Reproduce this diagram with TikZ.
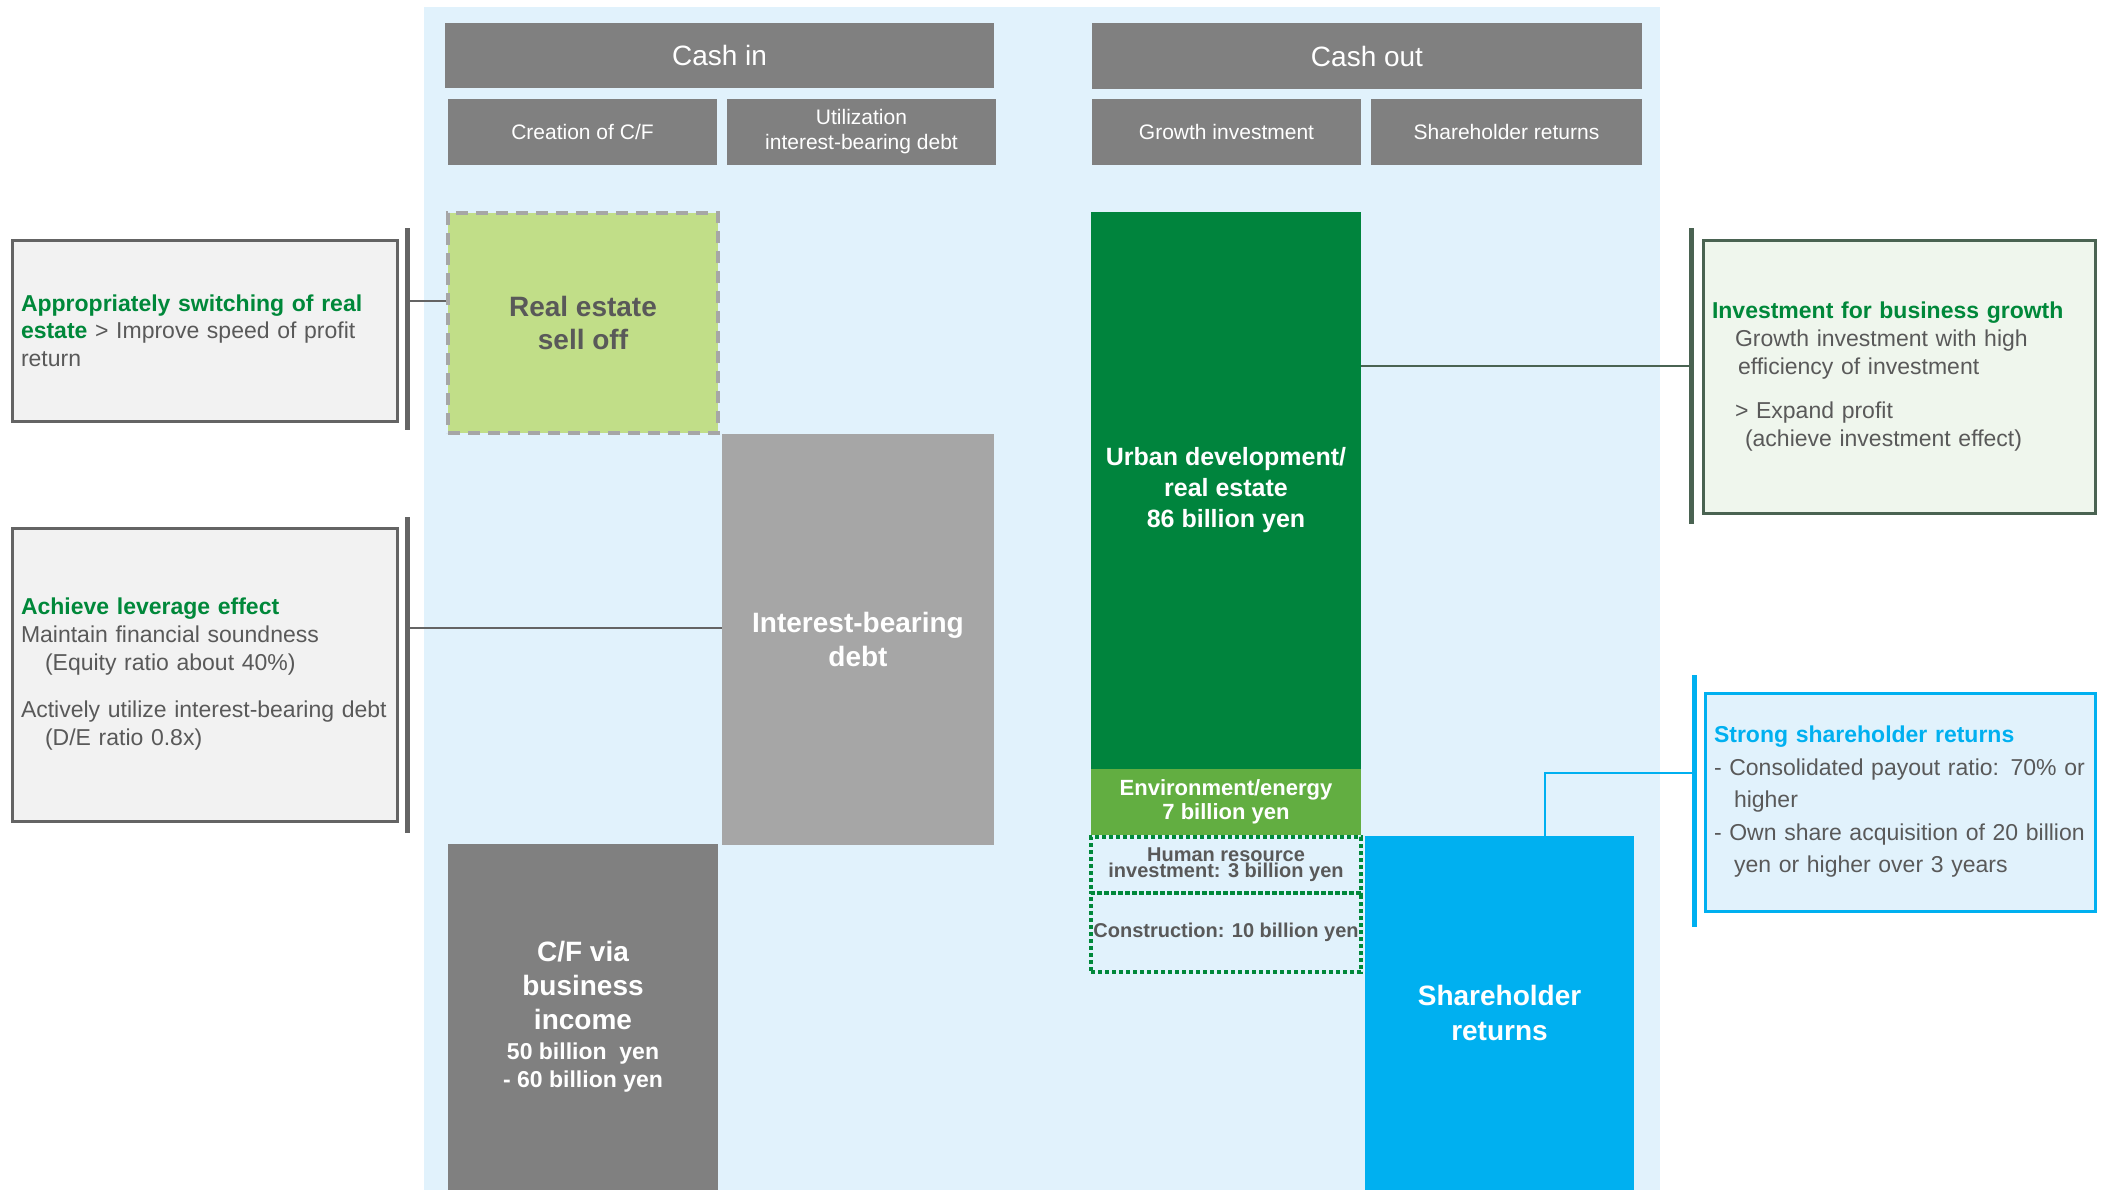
\documentclass[tikz,border=0pt]{standalone}
\usepackage{fontspec}
\setmainfont{Liberation Sans}
\definecolor{panelblue}{RGB}{225,242,252}
\definecolor{hdrgray}{RGB}{128,128,128}
\definecolor{debtgray}{RGB}{166,166,166}
\definecolor{regreen}{RGB}{193,222,136}
\definecolor{urbgreen}{RGB}{0,132,61}
\definecolor{envgreen}{RGB}{98,174,65}
\definecolor{shblue}{RGB}{0,176,240}
\definecolor{txtgray}{RGB}{89,89,89}
\definecolor{txtgreen}{RGB}{0,136,58}
\definecolor{boxgray}{RGB}{242,242,242}
\definecolor{bordgray}{RGB}{100,100,100}
\definecolor{gbox}{RGB}{239,246,237}
\definecolor{gbord}{RGB}{74,99,82}
\begin{document}
\begin{tikzpicture}[x=0.5pt,y=-0.5pt,
  hdr/.style={fill=hdrgray, text=white, inner sep=0pt, align=center},
  blk/.style={inner sep=0pt, align=center, font=\bfseries},
  note/.style={inner xsep=4.5pt, inner ysep=0pt, align=left, text=txtgray, line width=1.5pt},
  bar/.style={line width=2.5pt},
  conn/.style={line width=1pt},
  dotbox/.style={draw=txtgreen, line width=2pt, dash pattern=on 2pt off 1.5pt, inner sep=0pt, align=center, text=txtgray, font=\bfseries}
]
\useasboundingbox (0,0) rectangle (2107,1190);
\fill[panelblue] (424,7) rectangle (1660,1190);

% headers
\node[hdr, minimum width=274.5pt, minimum height=32.5pt, font=\fontsize{14}{16}\selectfont] (cashin) at (719.5,55.5) {Cash in};
\node[hdr, minimum width=134.5pt, minimum height=33pt, font=\fontsize{10.5}{12.5}\selectfont] (creation) at (582.5,132) {Creation of C/F};
\node[hdr, minimum width=134.5pt, minimum height=33pt, font=\fontsize{10.5}{12.5}\selectfont] (util) at (861.5,132) {Utilization\\interest-bearing debt};
\node[hdr, minimum width=275pt, minimum height=33pt, font=\fontsize{14}{16}\selectfont] (cashout) at (1367,56) {Cash out};
\node[hdr, minimum width=134.5pt, minimum height=33pt, font=\fontsize{10.5}{12.5}\selectfont] (growth) at (1226.5,132) {Growth investment};
\node[hdr, minimum width=135.5pt, minimum height=33pt, font=\fontsize{10.5}{12.5}\selectfont] (shret) at (1506.5,132) {Shareholder returns};

% blocks
\node[blk, fill=regreen, draw=debtgray, line width=2pt, dash pattern=on 6pt off 4pt, text=txtgray, minimum width=135pt, minimum height=110pt, font=\bfseries\fontsize{14}{16.5}\selectfont] (re) at (583,323) {Real estate\\sell off};
\node[blk, fill=debtgray, text=white, minimum width=136pt, minimum height=205.5pt, font=\bfseries\fontsize{14}{17}\selectfont] (debt) at (858,639.5) {Interest-bearing\\debt};
\node[blk, fill=hdrgray, text=white, minimum width=135pt, minimum height=173pt, font=\bfseries\fontsize{14}{17}\selectfont] (cf) at (583,1017) {C/F via\\business\\income\\[-2pt]{\fontsize{11.5}{13}\selectfont 50 billion\ \ yen}\\[-3pt]{\fontsize{11.5}{13}\selectfont - 60 billion yen}};
\node[blk, fill=urbgreen, text=white, minimum width=135pt, minimum height=278.5pt, font=\bfseries\fontsize{12.5}{15.5}\selectfont] (urban) at (1226,490.5) {Urban development/\\real estate\\86 billion yen};
\node[blk, fill=envgreen, text=white, minimum width=135pt, minimum height=33pt, font=\bfseries\fontsize{11}{12}\selectfont] (env) at (1226,802) {Environment/energy\\7 billion yen};
\node[dotbox, minimum width=135pt, minimum height=28pt, font=\bfseries\fontsize{10}{8}\selectfont] (hr) at (1226,865) {Human resource\\investment: 3 billion yen};
\node[dotbox, minimum width=135pt, minimum height=39.5pt, font=\bfseries\fontsize{10}{12}\selectfont] (cons) at (1226,932.5) {Construction: 10 billion yen};
\node[blk, fill=shblue, text=white, minimum width=134.5pt, minimum height=177pt, font=\bfseries\fontsize{14}{17.5}\selectfont] (sh) at (1499.5,1013) {Shareholder\\returns};

% notes
\node[note, fill=boxgray, draw=bordgray, minimum width=192.5pt, minimum height=90.5pt, text width=183.5pt, font=\fontsize{11.5}{13.75}\selectfont] (n1) at (204.5,330.5) {{\bfseries\color{txtgreen}Appropriately switching of real}\\{\bfseries\color{txtgreen}estate} > Improve speed of profit\\return};
\node[note, fill=boxgray, draw=bordgray, minimum width=192.5pt, minimum height=146.5pt, text width=183.5pt, font=\fontsize{11.5}{14}\selectfont] (n2) at (204.5,674.5) {{\bfseries\color{txtgreen}Achieve leverage effect}\\Maintain financial soundness\\\hspace*{12pt}(Equity ratio about 40\%)\\[9.5pt]Actively utilize interest-bearing debt\\\hspace*{12pt}(D/E ratio 0.8x)};
\node[note, fill=gbox, draw=gbord, minimum width=196pt, minimum height=136.5pt, text width=187pt, font=\fontsize{11.5}{14}\selectfont] (n3) at (1899,376.5) {{\bfseries\color{txtgreen}Investment for business growth}\\\hspace*{11.5pt}Growth investment with high\\\hspace*{13pt}efficiency of investment\\[8pt]\hspace*{11.5pt}> Expand profit\\\hspace*{16.5pt}(achieve investment effect)};
\node[note, fill=panelblue, draw=shblue, minimum width=195pt, minimum height=109pt, text width=186pt, font=\fontsize{11.5}{16.25}\selectfont] (n4) at (1900,802) {{\bfseries\color{shblue}Strong shareholder returns}\\- Consolidated payout ratio: 70\% or\\\hspace*{10pt}higher\\- Own share acquisition of 20 billion\\\hspace*{10pt}yen or higher over 3 years};

% bars
\coordinate (b1t) at (407,228); \coordinate (b1b) at (407,430);
\coordinate (b2t) at (407,517); \coordinate (b2b) at (407,833);
\coordinate (b3t) at (1691,228); \coordinate (b3b) at (1691,524);
\coordinate (b4t) at (1694,675); \coordinate (b4b) at (1694,927);
\draw[bar, draw=bordgray] (b1t) -- (b1b);
\draw[bar, draw=bordgray] (b2t) -- (b2b);
\draw[bar, draw=gbord] (b3t) -- (b3b);
\draw[bar, draw=shblue] (b4t) -- (b4b);

% connectors
\coordinate (c1) at (407,301);
\draw[conn, draw=bordgray] (c1) -- (c1 -| re.west);
\coordinate (c2) at (407,628);
\draw[conn, draw=bordgray] (c2) -- (c2 -| debt.west);
\coordinate (c3) at (1691,366);
\draw[conn, draw=gbord] (c3 -| urban.east) -- (c3);
\coordinate (c4) at (1694,773);
\coordinate (k4) at (1545,773);
\draw[conn, draw=shblue] (c4) -- (k4) -- (k4 |- sh.north);
\end{tikzpicture}
\end{document}
